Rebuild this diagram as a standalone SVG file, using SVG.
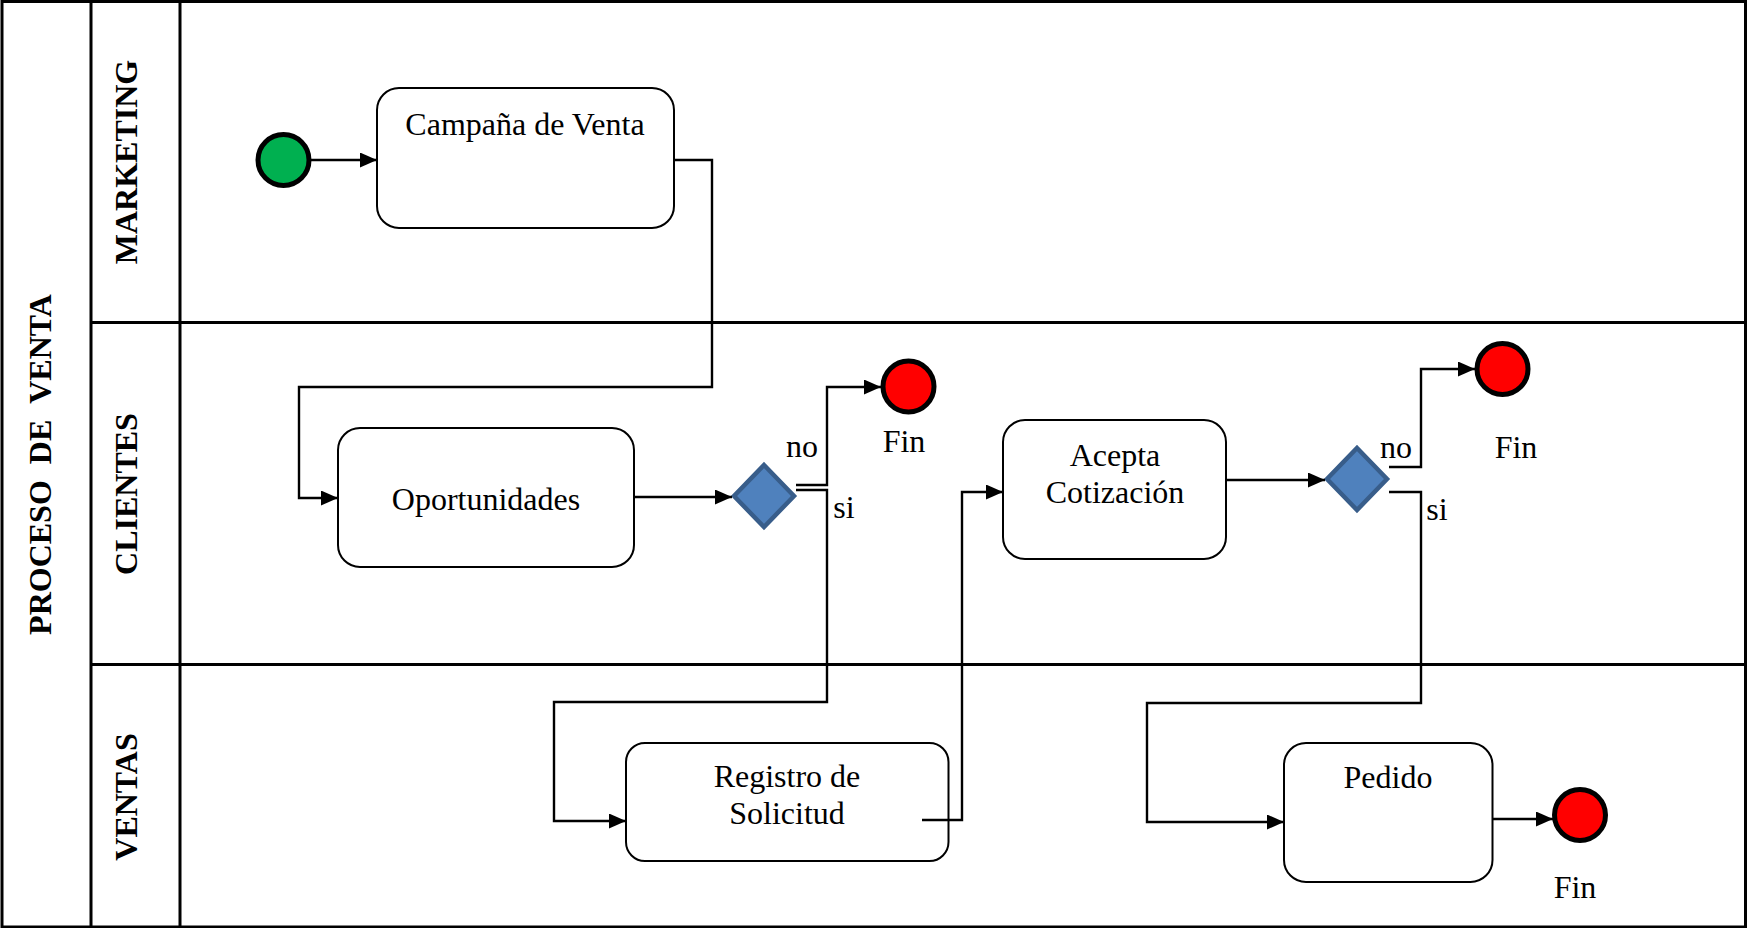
<svg xmlns="http://www.w3.org/2000/svg" width="1749" height="928" viewBox="0 0 1749 928">
  <style>
    .frame { fill: none; stroke: #000; stroke-width: 3; }
    .task { fill: #fff; stroke: #000; stroke-width: 2; }
    .gate { fill: #4F81BD; stroke: #385D8A; stroke-width: 4.5; }
    .start { fill: #00B050; stroke: #000; stroke-width: 5; }
    .end { fill: #FF0000; stroke: #000; stroke-width: 5; }
    .flow { fill: none; stroke: #000; stroke-width: 2.4; }
    .arrow { marker-end: url(#head); }
    .t { font-family: "Liberation Serif", "Times New Roman", serif; font-size: 32px; fill: #000; text-anchor: middle; }
    .lane { font-family: "Liberation Serif", "Times New Roman", serif; font-size: 32px; font-weight: bold; fill: #000; text-anchor: middle; }
  </style>
  <defs>
    <marker id="head" markerUnits="userSpaceOnUse" markerWidth="18" markerHeight="16" refX="17" refY="7.5" orient="auto">
      <path d="M0,0 L17,7.5 L0,15 z" fill="#000"/>
    </marker>
  </defs>

  <rect width="1749" height="928" fill="#fff"/>

  <!-- pool and lanes -->
  <g id="pool">
    <rect class="frame" x="2" y="1.5" width="1743.5" height="925.5"/>
    <line class="frame" x1="91" y1="1.5" x2="91" y2="927"/>
    <line class="frame" x1="180" y1="1.5" x2="180" y2="927"/>
    <line class="frame" x1="91" y1="322.5" x2="1745.5" y2="322.5"/>
    <line class="frame" x1="91" y1="664.5" x2="1745.5" y2="664.5"/>
    <text class="lane" transform="translate(51,464.5) rotate(-90)">PROCESO&#160;&#160;DE&#160;&#160;VENTA</text>
    <text class="lane" transform="translate(137,162) rotate(-90)">MARKETING</text>
    <text class="lane" transform="translate(137,494) rotate(-90)">CLIENTES</text>
    <text class="lane" transform="translate(137,797) rotate(-90)">VENTAS</text>
  </g>

  <!-- nodes -->
  <g id="inicio">
    <circle class="start" cx="283.5" cy="160" r="25.5"/>
  </g>

  <g id="campana">
    <rect class="task" x="377" y="88" width="297" height="140" rx="22" ry="22"/>
    <text class="t" x="525" y="135">Campaña de Venta</text>
  </g>

  <g id="oportunidades">
    <rect class="task" x="338" y="428" width="296" height="139" rx="22" ry="22"/>
    <text class="t" x="486" y="510">Oportunidades</text>
  </g>

  <g id="decision1">
    <polygon class="gate" points="764,465 794,496 764,527 734,496"/>
    <text class="t" x="802" y="457">no</text>
    <text class="t" x="844" y="518">si</text>
  </g>

  <g id="fin1">
    <circle class="end" cx="908.5" cy="386.5" r="25.5"/>
    <text class="t" x="904" y="452">Fin</text>
  </g>

  <g id="registro">
    <rect class="task" x="626" y="743" width="322.5" height="118" rx="19" ry="19"/>
    <text class="t" x="787" y="787">Registro de</text>
    <text class="t" x="787" y="824">Solicitud</text>
  </g>

  <g id="acepta">
    <rect class="task" x="1003" y="420" width="223" height="139" rx="22" ry="22"/>
    <text class="t" x="1115" y="466">Acepta</text>
    <text class="t" x="1115" y="503">Cotización</text>
  </g>

  <g id="decision2">
    <polygon class="gate" points="1357,448 1387,479 1357,510 1327,479"/>
    <text class="t" x="1396" y="458">no</text>
    <text class="t" x="1437" y="520">si</text>
  </g>

  <g id="fin2">
    <circle class="end" cx="1502.5" cy="369" r="25.5"/>
    <text class="t" x="1516" y="458">Fin</text>
  </g>

  <g id="pedido">
    <rect class="task" x="1284" y="743" width="208.5" height="139" rx="22" ry="22"/>
    <text class="t" x="1388" y="788">Pedido</text>
  </g>

  <g id="fin3">
    <circle class="end" cx="1580" cy="815" r="25.5"/>
    <text class="t" x="1575" y="898">Fin</text>
  </g>

  <!-- connectors (drawn over the shapes) -->
  <g id="connectors">
    <path class="flow arrow" d="M311,160 L377,160"/>
    <path class="flow arrow" d="M674,160 L712,160 L712,387 L299,387 L299,498 L338,498"/>
    <path class="flow arrow" d="M634,497 L732,497"/>
    <path class="flow arrow" d="M796,485 L827,485 L827,387 L881,387"/>
    <path class="flow arrow" d="M796,490 L827,490 L827,702 L554,702 L554,821 L626,821"/>
    <path class="flow arrow" d="M922,820 L962,820 L962,492 L1003,492"/>
    <path class="flow arrow" d="M1226,480 L1325,480"/>
    <path class="flow arrow" d="M1389,467 L1421,467 L1421,369 L1475,369"/>
    <path class="flow arrow" d="M1389,492 L1421,492 L1421,703 L1147,703 L1147,822 L1284,822"/>
    <path class="flow arrow" d="M1492,819 L1553,819"/>
  </g>
</svg>
